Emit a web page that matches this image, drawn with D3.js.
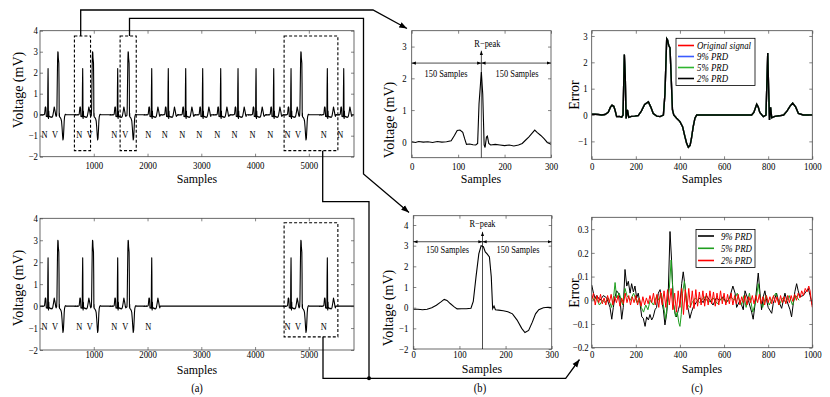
<!DOCTYPE html>
<html>
<head>
<meta charset="utf-8">
<script src="https://cdn.jsdelivr.net/npm/d3@7"></script>
<style>
  body { margin: 0; background: #fff; }
  svg text { font-family: "Liberation Serif", "Times New Roman", serif; fill: #000; }
</style>
</head>
<body>
<div id="fig"></div>
<script>
// ---- data ----

// normal beat (panel b, top): [sample in window, mV], R peak at 150
var nBeat = [[0,0.0],[8,-0.02],[15,0.01],[25,-0.01],[35,0.0],[45,-0.02],[55,0.01],[65,-0.01],[75,0.0],
  [85,0.03],[92,0.2],[98,0.36],[104,0.37],[110,0.3],[114,0.1],[118,-0.08],[125,-0.07],[132,-0.09],
  [138,-0.1],[142,-0.05],[145,1.2],[150,2.2],[153,1.5],[156,-0.1],[158,-0.18],[161,0.15],[163,0.18],
  [166,-0.05],[170,-0.1],[180,-0.08],[190,-0.1],[200,-0.12],[210,-0.1],[220,-0.13],[230,-0.1],
  [238,-0.05],[245,0.05],[252,0.15],[258,0.25],[265,0.37],[270,0.3],[278,0.2],[285,0.1],[292,-0.02],[300,-0.08]];

// ventricular beat (panel b, bottom)
var vBeat = [[0,-0.08],[10,-0.08],[20,-0.1],[30,-0.08],[40,0.0],[50,0.12],[60,0.28],[67,0.4],[73,0.35],
  [80,0.2],[88,0.05],[95,-0.06],[105,-0.05],[115,-0.05],[125,-0.03],[130,0.3],[136,1.5],[142,2.6],
  [147,3.0],[152,2.95],[156,2.7],[160,2.6],[165,2.45],[169,1.5],[172,-0.05],[175,0.08],[178,-0.1],
  [185,-0.12],[195,-0.15],[205,-0.2],[215,-0.3],[225,-0.6],[235,-1.0],[242,-1.2],[250,-1.1],
  [258,-0.7],[265,-0.3],[272,-0.1],[282,0.0],[292,0.02],[300,0.0]];

// R-peak positions and beat types in the long record
var topBeats = [150, 335, 794, 980, 1445, 1642, 2078, 2386, 2710, 3026, 3361, 3683, 4018, 4347, 4669, 4855, 5344, 5649];
var topTypes = ["N","V","N","V","N","V","N","N","N","N","N","N","N","N","N","V","N","N"];
var bottomBeats = [150, 335, 794, 980, 1445, 1642, 2078, 4669, 4855, 5344];
var bottomTypes = ["N","V","N","V","N","V","N","N","V","N"];

// selected windows (dashed boxes), in samples
var topWindows = [[640, 940], [1490, 1790], [4540, 5540]];
var bottomWindows = [[4540, 5540]];

// panel c, top: 1000-sample segment (original and reconstructions)
var segSignal = [[0,0.03],[15,0.03],[30,0.02],[45,0.0],[60,0.02],[75,0.1],[85,0.3],[92,0.37],[100,0.33],
  [106,0.18],[113,-0.06],[125,-0.05],[136,-0.08],[142,0.0],[148,2.3],[152,1.5],[156,-0.13],[162,0.2],
  [168,-0.09],[180,-0.05],[195,-0.04],[211,-0.02],[225,0.15],[240,0.4],[257,0.5],[268,0.3],[279,0.06],
  [295,-0.04],[310,-0.06],[325,0.0],[332,0.8],[340,2.9],[344,2.85],[349,2.65],[355,2.55],[360,1.5],
  [366,0.2],[372,0.0],[385,-0.12],[400,-0.25],[412,-0.44],[422,-0.8],[430,-1.06],[438,-1.22],
  [446,-1.15],[452,-0.9],[460,-0.45],[468,-0.12],[476,0.0],[600,0.0],[725,0.0],[735,0.1],[748,0.41],
  [755,0.3],[762,0.1],[778,-0.06],[790,0.0],[798,2.35],[802,1.0],[806,-0.19],[811,0.29],[816,-0.1],
  [830,-0.05],[850,-0.03],[870,0.0],[885,0.15],[900,0.35],[911,0.45],[925,0.3],[937,0.06],[959,0.0],
  [980,0.0],[1000,0.0]];
var segNames = ["Original signal", "9% PRD", "5% PRD", "2% PRD"];
var segColors = ["#ff0000", "#3b5bff", "#2fb52f", "#000000"];

// panel c, bottom: reconstruction errors
var err9 = [[0,0.065],[8,0.03],[15,0.01],[23,0.02],[38,0.0],[53,0.02],[68,0.01],[83,-0.03],[91,-0.08],
  [98,-0.03],[106,0.015],[113,0.04],[121,0.03],[128,0.01],[136,-0.08],[143,-0.03],[151,0.13],[159,0.06],
  [166,0.08],[174,0.03],[181,0.07],[189,0.035],[196,0.06],[204,0.01],[211,0.03],[219,-0.013],[227,-0.07],
  [234,-0.076],[242,-0.11],[249,-0.07],[257,-0.083],[264,-0.06],[272,-0.083],[279,-0.07],[287,-0.04],
  [294,-0.03],[302,0.03],[310,0.045],[317,0.0],[325,-0.04],[332,-0.104],[340,-0.055],[347,0.03],
  [355,0.29],[362,0.17],[370,-0.013],[378,-0.055],[385,-0.07],[393,-0.04],[400,-0.013],[408,0.07],
  [415,0.12],[423,0.06],[430,-0.013],[438,-0.04],[445,-0.076],[453,-0.048],[461,-0.027],[476,-0.006],
  [490,0.01],[505,-0.01],[520,0.02],[535,0.0],[550,-0.02],[565,0.01],[580,0.0],[595,0.015],[610,-0.01],
  [625,0.01],[640,0.06],[650,0.03],[657,-0.03],[672,0.0],[687,-0.04],[695,0.04],[710,0.0],[725,-0.05],
  [732,-0.08],[740,-0.02],[755,0.115],[763,0.03],[770,-0.04],[778,0.015],[785,0.04],[793,0.0],[800,-0.03],
  [816,-0.055],[823,-0.013],[838,0.03],[846,0.0],[861,-0.034],[876,0.03],[884,0.0],[899,-0.04],
  [906,-0.07],[914,-0.013],[921,0.036],[929,0.07],[936,0.04],[944,0.015],[959,0.02],[974,0.04],
  [982,0.05],[990,0.02],[1000,-0.02]];
var err5 = [[0,0.02],[10,0.0],[20,0.01],[35,-0.02],[50,0.0],[60,-0.01],[75,0.01],[90,-0.03],[100,0.02],
  [106,0.075],[113,0.01],[125,0.03],[140,-0.02],[151,0.05],[160,0.02],[175,0.0],[190,0.03],[205,-0.01],
  [215,0.01],[225,-0.03],[235,-0.05],[245,-0.02],[255,-0.04],[265,0.0],[280,-0.02],[295,0.02],[305,0.0],
  [315,0.03],[325,-0.02],[335,-0.08],[345,0.0],[352,0.05],[360,0.17],[366,0.07],[372,-0.02],[380,-0.07],
  [388,-0.05],[395,-0.095],[400,-0.11],[406,-0.06],[412,0.03],[420,0.08],[428,0.02],[435,-0.02],
  [445,-0.03],[455,-0.01],[470,0.01],[490,-0.01],[510,0.015],[530,-0.01],[550,0.01],[570,-0.015],
  [590,0.01],[610,-0.01],[630,0.015],[645,0.0],[660,0.03],[670,0.0],[680,-0.02],[690,0.02],[700,-0.03],
  [715,0.03],[730,-0.05],[745,0.0],[755,0.07],[765,0.0],[775,-0.03],[790,0.02],[805,-0.02],[820,0.01],
  [835,0.03],[850,-0.02],[865,0.01],[880,-0.01],[895,0.02],[910,-0.02],[925,0.02],[940,0.0]];
var err2 = [[0,0.0],[8,0.03],[16,-0.02],[24,0.02],[32,-0.01],[40,0.025],[48,-0.015],[56,0.01],[64,-0.02],
  [72,0.02],[80,-0.01],[88,0.025],[96,-0.02],[104,0.015],[112,-0.01],[120,0.02],[128,-0.025],[136,0.01],
  [144,-0.015],[152,0.03],[160,-0.01],[168,0.02],[176,-0.02],[184,0.015],[192,-0.01],[200,0.02],
  [208,-0.02],[216,0.01],[224,-0.025],[232,0.015],[240,-0.02],[248,0.01],[256,-0.015],[264,0.02],
  [272,-0.01],[280,0.03],[288,-0.02],[296,0.025],[304,-0.03],[312,0.035],[320,-0.02],[328,0.04],
  [336,-0.03],[344,0.045],[352,-0.02],[360,0.05],[368,-0.04],[376,0.03],[384,-0.05],[392,0.04],
  [400,-0.03],[408,0.05],[416,-0.06],[424,0.045],[432,-0.04],[440,0.05],[448,-0.03],[456,0.04],
  [464,-0.035],[472,0.045],[480,-0.025],[488,0.035],[496,-0.02],[504,0.04],[512,-0.025],[520,0.03],
  [528,-0.02],[536,0.04],[544,-0.015],[552,0.035],[560,-0.025],[568,0.03],[576,-0.02],[584,0.04],
  [592,-0.015],[600,0.03],[608,-0.02],[616,0.025],[624,-0.015],[632,0.03],[640,-0.02],[648,0.02],
  [656,-0.015],[664,0.025],[672,-0.02],[680,0.015],[688,-0.01],[696,0.02],[704,-0.02],[712,0.015],
  [720,-0.01],[728,0.02],[736,-0.015],[744,0.02],[752,-0.01],[760,0.025],[768,-0.015],[776,0.015],
  [784,-0.02],[792,0.02],[800,-0.01],[808,0.015],[816,-0.015],[824,0.02],[832,-0.01],[840,0.015],
  [848,-0.02],[856,0.02],[864,-0.01],[872,0.015],[880,-0.015],[888,0.02],[896,-0.01],[904,0.02],
  [912,-0.005],[920,0.025],[928,0.0],[936,0.03],[944,0.01],[952,0.04],[960,0.02],[968,0.05],
  [976,0.035],[984,0.06],[990,0.04],[995,0.0],[1000,-0.03]];
var errNames = ["9% PRD", "5% PRD", "2% PRD"];
var errColors = ["#000000", "#1f9e1f", "#ff0000"];

// ---- drawing ----
var FONT = "'Liberation Serif', 'Times New Roman', serif";

var svg = d3.select("#fig").append("svg")
  .attr("width", 830)
  .attr("height", 397)
  .attr("font-family", FONT);

var defs = svg.append("defs");
defs.append("marker")
  .attr("id", "arrow")
  .attr("viewBox", "0 0 10 10")
  .attr("refX", 10).attr("refY", 5)
  .attr("markerWidth", 6).attr("markerHeight", 6)
  .attr("orient", "auto-start-reverse")
  .append("path").attr("d", "M0,1.2L10,5L0,8.8Z").attr("fill", "#000");

var clipCount = 0;
var fmt = d3.format("~g");

// one Matlab-like box axes: inward ticks on all four sides
function makePanel(p) {
  var x = d3.scaleLinear().domain(p.xd).range([p.l, p.r]);
  var y = d3.scaleLinear().domain(p.yd).range([p.b, p.t]);
  var g = svg.append("g");
  var id = "clip" + (clipCount++);
  defs.append("clipPath").attr("id", id).append("rect")
    .attr("x", p.l).attr("y", p.t).attr("width", p.r - p.l).attr("height", p.b - p.t);
  var plot = g.append("g").attr("clip-path", "url(#" + id + ")");

  var xb = g.append("g").attr("transform", `translate(0,${p.b})`)
    .call(d3.axisBottom(x).tickValues(p.xt).tickSizeInner(-3).tickSizeOuter(0).tickPadding(p.xPad).tickFormat(fmt));
  var xt = g.append("g").attr("transform", `translate(0,${p.t})`)
    .call(d3.axisTop(x).tickValues(p.xt).tickSizeInner(-3).tickSizeOuter(0).tickFormat(""));
  var yl = g.append("g").attr("transform", `translate(${p.l},0)`)
    .call(d3.axisLeft(y).tickValues(p.yt).tickSizeInner(-3).tickSizeOuter(0).tickPadding(p.yPad).tickFormat(fmt));
  var yr = g.append("g").attr("transform", `translate(${p.r},0)`)
    .call(d3.axisRight(y).tickValues(p.yt).tickSizeInner(-3).tickSizeOuter(0).tickFormat(""));

  [xb, xt, yl, yr].forEach(function(a) {
    a.attr("font-family", FONT);
    a.select(".domain").remove();
    a.selectAll("line").attr("stroke", "#333").attr("stroke-width", 0.6);
    a.selectAll("text").attr("font-size", 10);
  });

  g.append("rect")
    .attr("x", p.l).attr("y", p.t)
    .attr("width", p.r - p.l).attr("height", p.b - p.t)
    .attr("fill", "none").attr("stroke", "#444").attr("stroke-width", 0.8);

  g.append("text")
    .attr("x", p.xlab[0]).attr("y", p.xlab[1])
    .attr("text-anchor", "middle").attr("dy", "0.35em")
    .attr("font-size", 13.5)
    .text("Samples");

  g.append("text")
    .attr("class", "rot")
    .attr("transform", `translate(${p.ylab[0]},${p.ylab[1]}) rotate(-90)`)
    .attr("text-anchor", "middle").attr("dy", "0.35em")
    .attr("font-size", 14)
    .text(p.ytitle);

  return { x: x, y: y, plot: plot, g: g };
}

// stitch beat templates into one record; long gaps sit on the zero baseline
function buildRecord(beats, types) {
  var pts = [[0, 0]];
  var lastEnd = 0;
  beats.forEach(function(r, i) {
    var tpl = types[i] === "N" ? nBeat : vBeat;
    var first = types[i] === "N" ? 0 : 125;
    var nextStart = i + 1 < beats.length ? beats[i + 1] - 150 + (types[i + 1] === "N" ? 0 : 125) : 5840;
    tpl.forEach(function(d) {
      var s = r - 150 + d[0];
      if (d[0] < first || s <= lastEnd || s >= nextStart) return;
      pts.push([s, d[1]]);
    });
    lastEnd = pts[pts.length - 1][0];
    if (nextStart - lastEnd > 30) {
      lastEnd += 8;
      pts.push([lastEnd, 0]);
    }
  });
  pts.push([5840, 0]);
  return pts;
}

function drawRecord(pan, beats, types, windows, boxTop, boxBottom) {
  var line = d3.line().x(d => pan.x(d[0])).y(d => pan.y(d[1]));
  pan.plot.append("path")
    .datum(buildRecord(beats, types))
    .attr("d", line)
    .attr("fill", "none").attr("stroke", "#000").attr("stroke-width", 1.1)
    .attr("stroke-linejoin", "round");

  pan.g.selectAll(null)
    .data(beats)
    .enter()
    .append("text")
    .attr("x", (d, i) => pan.x(d) + (types[i] === "N" ? -3.5 : -3))
    .attr("y", pan.y(-0.95))
    .attr("dy", "0.35em")
    .attr("text-anchor", "middle")
    .attr("font-size", 9.5)
    .text((d, i) => types[i]);

  pan.g.selectAll(null)
    .data(windows)
    .enter()
    .append("rect")
    .attr("x", d => pan.x(d[0]))
    .attr("width", d => pan.x(d[1]) - pan.x(d[0]))
    .attr("y", pan.y(boxTop))
    .attr("height", pan.y(boxBottom) - pan.y(boxTop))
    .attr("fill", "none").attr("stroke", "#000")
    .attr("stroke-width", 1.1).attr("stroke-dasharray", "3,2");
}

// (a) top
var a1 = makePanel({ l: 40, r: 354, t: 30.7, b: 156.7, xd: [0, 5840], yd: [-2, 4],
  xt: [1000, 2000, 3000, 4000, 5000], yt: [-2, -1, 0, 1, 2, 3, 4], xPad: 5, yPad: 2,
  xlab: [197, 178], ylab: [18, 90], ytitle: "Voltage (mV)" });
drawRecord(a1, topBeats, topTypes, topWindows, 3.75, -1.71);

// (a) bottom
var a2 = makePanel({ l: 40, r: 354, t: 218.3, b: 350, xd: [0, 5840], yd: [-2, 4],
  xt: [1000, 2000, 3000, 4000, 5000], yt: [-2, -1, 0, 1, 2, 3, 4], xPad: 1, yPad: 2,
  xlab: [197, 369], ylab: [18, 288], ytitle: "Voltage (mV)" });
drawRecord(a2, bottomBeats, bottomTypes, bottomWindows, 3.8, -1.4);

// (b) beat windows with R-peak annotation
function drawBeat(pan, beat, tipV, arrowV, textV, peakV) {
  var line = d3.line().x(d => pan.x(d[0])).y(d => pan.y(d[1]));
  pan.plot.append("path")
    .datum(beat)
    .attr("d", line)
    .attr("fill", "none").attr("stroke", "#000").attr("stroke-width", 1.1);

  var yd = pan.y.domain();
  pan.g.append("line")
    .attr("x1", pan.x(150)).attr("x2", pan.x(150))
    .attr("y1", pan.y(yd[0])).attr("y2", pan.y(tipV))
    .attr("stroke", "#000").attr("stroke-width", 0.7)
    .attr("marker-end", "url(#arrow)");

  [[0, 150], [150, 300]].forEach(function(seg) {
    pan.g.append("line")
      .attr("x1", pan.x(seg[0])).attr("x2", pan.x(seg[1]))
      .attr("y1", pan.y(arrowV)).attr("y2", pan.y(arrowV))
      .attr("stroke", "#000").attr("stroke-width", 0.7)
      .attr("marker-start", "url(#arrow)")
      .attr("marker-end", "url(#arrow)");
  });

  [74, 227].forEach(function(s) {
    pan.g.append("text")
      .attr("x", pan.x(s)).attr("y", pan.y(textV))
      .attr("dy", "0.35em").attr("text-anchor", "middle")
      .attr("font-size", 9.5)
      .text("150 Samples");
  });

  pan.g.append("text")
    .attr("x", pan.x(peakV[0])).attr("y", pan.y(peakV[1]))
    .attr("dy", "0.35em").attr("text-anchor", "middle")
    .attr("font-size", 9.5)
    .text("R\u2212peak");
}

var b1 = makePanel({ l: 411.7, r: 551, t: 30.7, b: 157.7, xd: [0, 300], yd: [-0.5, 3.5],
  xt: [0, 100, 200, 300], yt: [0, 1, 2, 3], xPad: 5, yPad: 5,
  xlab: [481, 178], ylab: [389, 120], ytitle: "Voltage (mV)" });
drawBeat(b1, nBeat, 2.87, 2.48, 2.16, [163, 3.08]);

var b2 = makePanel({ l: 413.3, r: 551.7, t: 215.7, b: 349, xd: [0, 300], yd: [-2, 4.45],
  xt: [0, 100, 200, 300], yt: [-2, -1, 0, 1, 2, 3, 4], xPad: 2, yPad: 5,
  xlab: [482, 368], ylab: [388, 308], ytitle: "Voltage (mV)" });
drawBeat(b2, vBeat, 3.67, 3.19, 2.79, [150, 4.04]);

// (c) top: original and reconstructed segment
var c1 = makePanel({ l: 591.7, r: 812.3, t: 30.7, b: 159.3, xd: [0, 1000], yd: [-1.68, 3.2],
  xt: [0, 200, 400, 600, 800, 1000], yt: [-1, 0, 1, 2, 3], xPad: 4, yPad: 4,
  xlab: [702, 178], ylab: [574, 95], ytitle: "Error" });
var c1line = d3.line().x(d => c1.x(d[0])).y(d => c1.y(d[1]));
segColors.forEach(function(col) {
  c1.plot.append("path")
    .datum(segSignal)
    .attr("d", c1line)
    .attr("fill", "none").attr("stroke", col).attr("stroke-width", 1.4);
});

// (c) bottom: errors
var c2 = makePanel({ l: 591.7, r: 812.3, t: 217.3, b: 347.7, xd: [0, 1000], yd: [-0.2, 0.35],
  xt: [0, 200, 400, 600, 800, 1000], yt: [-0.2, -0.1, 0, 0.1, 0.2, 0.3], xPad: 3, yPad: 3,
  xlab: [702, 368], ylab: [574, 293], ytitle: "Error" });
var c2line = d3.line().x(d => c2.x(d[0])).y(d => c2.y(d[1]));
[err9, err5, err2].forEach(function(series, i) {
  c2.plot.append("path")
    .datum(series)
    .attr("d", c2line)
    .attr("fill", "none").attr("stroke", errColors[i]).attr("stroke-width", 1.0)
    .attr("stroke-linejoin", "round");
});

// legends
function legend(x0, y0, w, rows, names, colors, alignRight) {
  var g = svg.append("g");
  g.append("rect")
    .attr("x", x0).attr("y", y0).attr("width", w).attr("height", rows[rows.length - 1] - y0 + 7)
    .attr("fill", "#fff").attr("stroke", "#000").attr("stroke-width", 0.8);
  names.forEach(function(name, i) {
    g.append("line")
      .attr("x1", x0 + 2).attr("x2", x0 + 18)
      .attr("y1", rows[i]).attr("y2", rows[i])
      .attr("stroke", colors[i]).attr("stroke-width", 1.6);
    g.append("text")
      .attr("x", alignRight ? x0 + w - 3 : x0 + 21)
      .attr("y", rows[i]).attr("dy", "0.35em")
      .attr("text-anchor", alignRight ? "end" : "start")
      .attr("font-size", 10).attr("font-style", "italic")
      .text(name);
  });
}
legend(676, 38.3, 79, [45.5, 56.5, 67.5, 78.5], segNames, segColors, false);
legend(696, 229.5, 59, [236, 248.3, 260.5], errNames, errColors, true);

// connectors between panels
var conn = svg.append("g")
  .attr("fill", "none").attr("stroke", "#000").attr("stroke-width", 1.3);
conn.append("path").attr("d", "M80.7,36V10H373L407,28.5").attr("marker-end", "url(#arrow)");
conn.append("path").attr("d", "M129.5,36V18.3H363.5V174L409,212.5").attr("marker-end", "url(#arrow)");
conn.append("path").attr("d", "M322.7,150.7V201.7H369V378.3");
conn.append("path").attr("d", "M323,336.7V378.3H565.7L579.5,359.5").attr("marker-end", "url(#arrow)");
svg.append("circle").attr("cx", 369).attr("cy", 378.3).attr("r", 2).attr("fill", "#000");

// sub-figure captions
[["(a)", 197], ["(b)", 480], ["(c)", 697]].forEach(function(c) {
  svg.append("text")
    .attr("x", c[1]).attr("y", 388)
    .attr("dy", "0.35em").attr("text-anchor", "middle")
    .attr("font-size", 12)
    .text(c[0]);
});

// the source figure is squeezed sideways: narrow every horizontal text a little
svg.selectAll("text").each(function() {
  var t = d3.select(this);
  if (t.classed("rot")) return;
  var w = this.getComputedTextLength();
  if (w > 0) t.attr("textLength", w * 0.88).attr("lengthAdjust", "spacingAndGlyphs");
});
</script>
</body>
</html>
